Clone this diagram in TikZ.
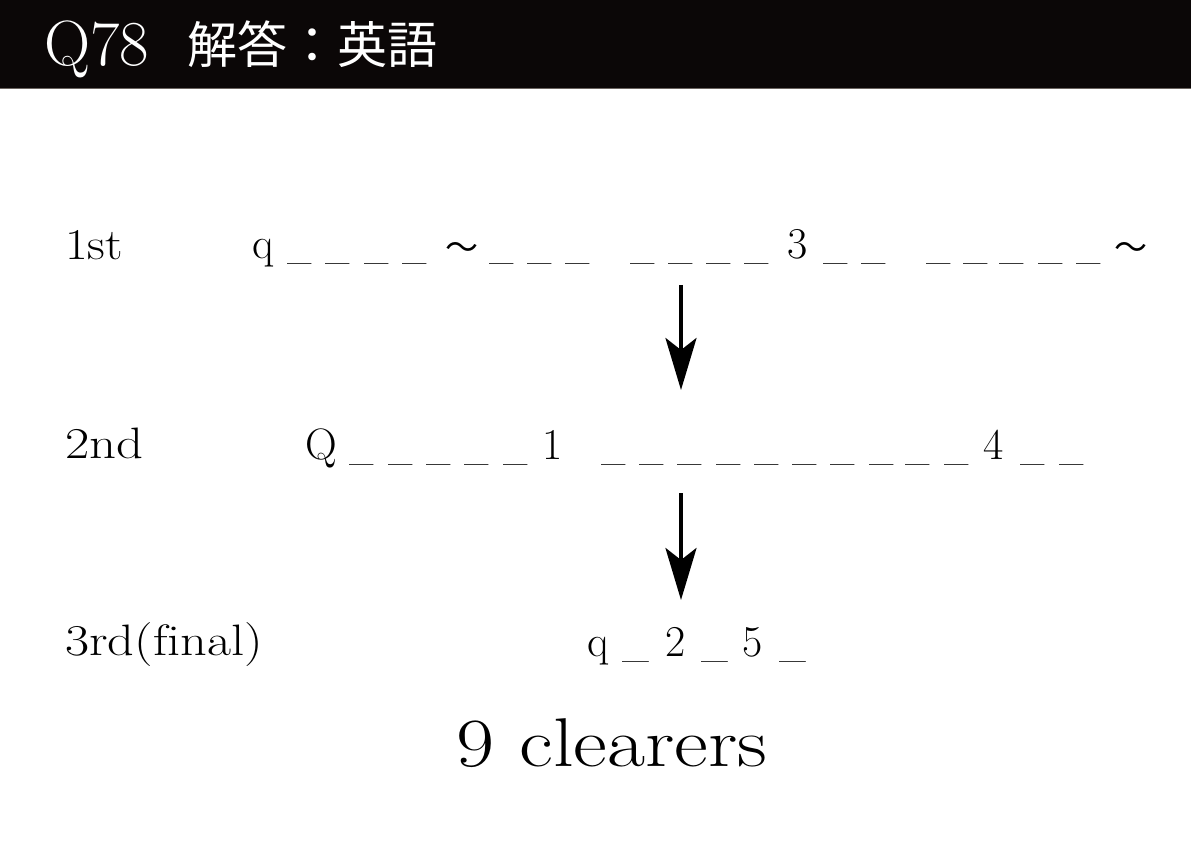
\documentclass[tikz,border=0pt]{standalone}
\usepackage{fontspec}
\newfontfamily\cjk{Noto Sans CJK JP}
\usetikzlibrary{arrows.meta}
\definecolor{hdr}{HTML}{0B0707}
\definecolor{hdrline}{HTML}{6B6460}
\newcommand{\blank}{\scalebox{0.8}[1]{\_}}
\newcommand{\blankw}{\scalebox{0.88}[1]{\_}}
\newcommand{\wave}{{\cjk\fontsize{33}{36}\selectfont ～}}
\tikzset{
  tok/.style={anchor=base, inner sep=0pt, font=\fontsize{44}{50}\selectfont},
  lbl/.style={anchor=base west, inner sep=0pt, font=\fontsize{44}{50}\selectfont},
  flow/.style={line width=4pt, -{Stealth[length=52pt,width=31pt,inset=12pt]}},
}
\begin{document}
\begin{tikzpicture}[x=1pt,y=-1pt]
\useasboundingbox (0,0) rectangle (1191,842);
\fill[white] (0,0) rectangle (1191,842);
% header
\fill[hdr] (0,0) rectangle (1191,88);
\fill[hdrline] (0,88) rectangle (1191,89.5);
\node[anchor=base west, inner sep=0pt, text=white, font=\fontsize{64}{66}\selectfont] (qno) at (44,66) {Q78};
\node[anchor=base west, inner sep=0pt, text=white, font=\fontsize{50}{54}\selectfont\cjk] (ttl) at (187,64) {解答：英語};
% row labels
\node[lbl] (l1) at (65,260) {\scalebox{1.12}[1]{1st}};
\node[lbl] (l2) at (65,458) {\scalebox{1.2}[1]{2nd}};
\node[lbl] (l3) at (65,655) {\scalebox{1.19}[1]{3rd(f\kern0pt inal)}};
% row 1
\node[tok] (r1q) at (263,259) {q};
\foreach \x [count=\i] in {300,338,377,415,502,540,578,643,681,719,757,836,874,939,976,1012,1051,1089}
  \node[tok] (r1d\i) at (\x,259) {\blank};
\node[tok] (r1t1) at (462,260) {\wave};
\node[tok] (r1n) at (798,259) {3};
\node[tok] (r1t2) at (1131,260) {\wave};
% row 2
\node[tok] (r2q) at (321,459) {Q};
\foreach \x [count=\i] in {362,401,439,477,516,614,652,690,729,767,805,843,882,918,957,1033,1072}
  \node[tok] (r2d\i) at (\x,459) {\blank};
\node[tok] (r2a) at (553,459) {1};
\node[tok] (r2b) at (994,459) {4};
% row 3
\node[tok] (r3q) at (598,656) {q};
\foreach \x [count=\i] in {636,715,793}
  \node[tok] (r3d\i) at (\x,656) {\blankw};
\node[tok] (r3a) at (676,656) {2};
\node[tok] (r3b) at (753,656) {5};
% result
\node[anchor=base, inner sep=0pt, font=\fontsize{69}{72}\selectfont] (res) at (612,766) {\scalebox{1.2}[1]{9 clearers}};
% arrows
\coordinate (a1s) at (681,285);
\coordinate (a1e) at (681,390);
\coordinate (a2s) at (681,493);
\coordinate (a2e) at (681,600);
\draw[flow] (a1s) -- (a1e);
\draw[flow] (a2s) -- (a2e);
\end{tikzpicture}
\end{document}
